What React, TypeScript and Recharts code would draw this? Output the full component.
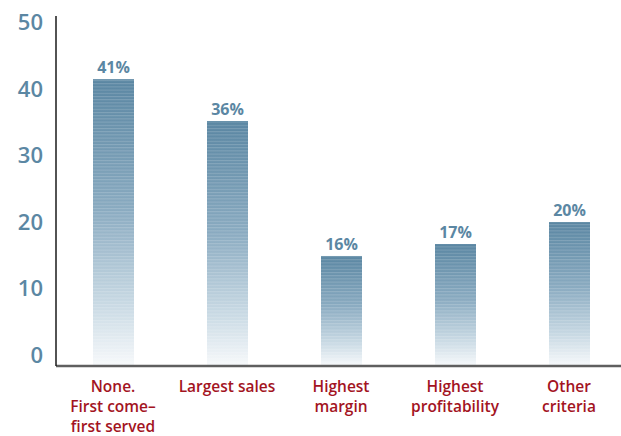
import React from 'react';
import { BarChart, Bar, XAxis, YAxis, LabelList } from 'recharts';

const categories = [
    ['None.', 'First come–', 'first served'],
    ['Largest sales'],
    ['Highest', 'margin'],
    ['Highest', 'profitability'],
    ['Other', 'criteria'],
];
const values = [41.5, 35.2, 14.9, 16.7, 20.0];
const valueLabels = ['41%', '36%', '16%', '17%', '20%'];
const yTicks = [0, 10, 20, 30, 40, 50];

const data = categories.map((c, i) => ({
    name: c.join('\n'),
    value: values[i],
    label: valueLabels[i],
}));

const FONT = '"Open Sans", "Noto Sans", sans-serif';
const BLUE = '#5b87a3';
const RED = '#a3141f';

function XTick(props: any) {
    const { x, y, payload } = props;
    const lines = String(payload.value).split('\n');
    return (
        <text x={x} y={y} textAnchor='middle' fill={RED} fontFamily={FONT} fontWeight={600} fontSize={15.5}>
            {lines.map((l, i) => (
                <tspan key={i} x={x} dy={i === 0 ? 17.5 : 20}>{l}</tspan>
            ))}
        </text>
    );
}

function StripedBar(props: any) {
    const { x, y, width, background } = props;
    const bottom = background.y + background.height;
    return (
        <g>
            <rect x={x} y={y} width={width} height={bottom - y} fill='url(#barFade)' />
            <rect x={x} y={y} width={width} height={bottom - y} fill='url(#barStripes)' />
        </g>
    );
}

export default function App() {
    return (
        <div style={{ position: 'absolute', left: 0, top: 0, width: 621, height: 436, overflow: 'hidden', background: '#fff' }}>
            <BarChart width={626} height={436} data={data} margin={{ top: 16, right: 0, left: 0, bottom: 0 }}>
                <defs>
                    <linearGradient id='barFade' x1='0' y1='0' x2='0' y2='1'>
                        <stop offset='0' stopColor='#5a86a2' />
                        <stop offset='0.45' stopColor='#89aac0' />
                        <stop offset='0.8' stopColor='#cbdbe5' />
                        <stop offset='1' stopColor='#f7f9fb' />
                    </linearGradient>
                    <pattern id='barStripes' width='4' height='3.2' patternUnits='userSpaceOnUse'>
                        <rect x='0' y='0' width='4' height='1' fill='#ffffff' fillOpacity={0.18} />
                    </pattern>
                </defs>
                <XAxis
                    dataKey='name'
                    height={70}
                    tick={<XTick />}
                    tickLine={false}
                    axisLine={{ stroke: '#5f5f5f', strokeWidth: 2.5 }}
                    interval={0}
                />
                <YAxis
                    width={56}
                    domain={[-1.65, 51]}
                    ticks={yTicks}
                    allowDataOverflow
                    tickLine={false}
                    tickMargin={7}
                    axisLine={{ stroke: '#1a1a1a', strokeWidth: 1.5 }}
                    tick={{ fill: BLUE, fontFamily: FONT, fontSize: 22, fontWeight: 600 }}
                />
                <Bar dataKey='value' barSize={41} shape={<StripedBar />} isAnimationActive={false}>
                    <LabelList dataKey='label' position='top' offset={6} fill={BLUE} fontFamily={FONT} fontWeight={700} fontSize={16} />
                </Bar>
            </BarChart>
        </div>
    );
}
